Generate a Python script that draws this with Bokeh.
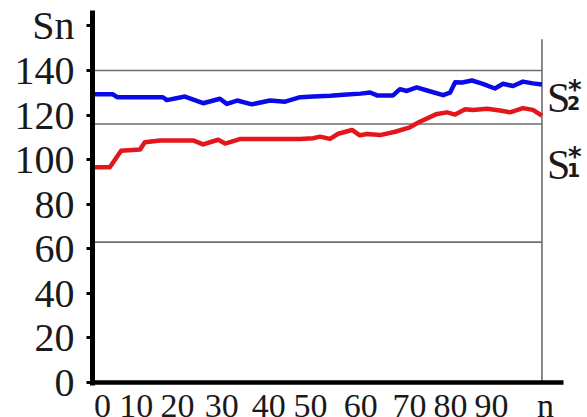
from bokeh.plotting import figure
from bokeh.models import Range1d, FixedTicker, Label, LabelSet, ColumnDataSource
from bokeh.embed import file_html
from bokeh.resources import INLINE

# ---- data ----
n_s2 = [0, 4.6, 5.6, 16.2, 17.1, 21.3, 25.5, 29.4, 31, 33.4, 36.8, 41, 44.5, 48, 51,
        55, 58.8, 62, 64.2, 65.8, 69.5, 71.1, 72.7, 75, 77.4, 81.1, 82.7, 83.9, 85.5,
        87.8, 90.3, 93.1, 95, 97.3, 99.6, 101.9, 104]
s2 = [129.3, 129.3, 128, 128, 126.7, 128.3, 125.3, 127.3, 125, 126.5, 124.8, 126.5, 126,
      128, 128.3, 128.6, 129.2, 129.6, 130.1, 128.8, 128.8, 131.6, 130.8, 132.4, 131,
      128.9, 130, 134.7, 134.6, 135.5, 134, 131.9, 134, 133, 135, 134.2, 133.7]

n_s1 = [0, 3.9, 6.5, 10.9, 12, 15.5, 23.2, 25.5, 29, 30.6, 34, 41, 48, 51, 52.6, 54.9,
        56.8, 60, 61.8, 63.5, 66.5, 70, 73.4, 75.7, 79.7, 82, 83.9, 86.2, 88, 91.3, 94.3,
        96.6, 99.6, 101.9, 104]
s1 = [96.6, 96.6, 104, 104.5, 107.8, 108.6, 108.6, 106.8, 108.9, 107.2, 109.2, 109.2,
      109.2, 109.6, 110.3, 109.3, 111.6, 113.3, 110.9, 111.5, 111, 112.5, 114.5, 117,
      120.5, 121.2, 120.2, 122.6, 122.3, 122.8, 122, 121.2, 123.1, 122.3, 119.7]

ref_levels = [140, 116, 63]
vline_top = 154

y_ticks = [0, 20, 40, 60, 80, 100, 120, 140, 160]
y_tick_labels = ["0", "20", "40", "60", "80", "100", "120", "140", "Sn"]
x_tick_positions = [2.2, 10, 19.6, 29.8, 40.7, 50.4, 62, 73.3, 82.8, 92.3, 104.8]
x_tick_labels = ["0", "10", "20", "30", "40", "50", "60", "70", "80", "90", "n"]

n_max = max(n_s1)
SERIF = "Liberation Serif"
INK = "#1a1a1a"

p = figure(width=587, height=417, output_backend="svg", toolbar_location=None,
           title=None, x_range=Range1d(-0.116, 114.55), y_range=Range1d(-15.7, 171.38),
           min_border_left=92, min_border_right=0, min_border_top=0,
           min_border_bottom=0)
p.outline_line_color = None
p.grid.visible = False
p.background_fill_color = "white"
p.border_fill_color = "white"

# reference lines
ref_src = ColumnDataSource(dict(x0=[0] * len(ref_levels), x1=[n_max] * len(ref_levels),
                                y0=ref_levels, y1=ref_levels))
p.segment(x0="x0", x1="x1", y0="y0", y1="y1", source=ref_src,
          line_color="#6e6e6e", line_width=1.6)
p.segment(x0=[n_max], x1=[n_max], y0=[0], y1=[vline_top],
          line_color="#6e6e6e", line_width=1.6)

# series
p.line(n_s2, s2, line_color="#0a0ae6", line_width=4.5, line_join="round")
p.line(n_s1, s1, line_color="#e3171b", line_width=4.5, line_join="round")

# y axis (side panel)
ya = p.yaxis[0]
ya.ticker = FixedTicker(ticks=y_ticks)
ya.major_label_overrides = dict(zip(y_ticks, y_tick_labels))
ya.axis_line_width = 5
ya.axis_line_color = "black"
ya.major_tick_out = 6
ya.major_tick_in = 0
ya.major_tick_line_width = 3
ya.minor_tick_out = 0
ya.minor_tick_in = 0
ya.major_label_text_font = SERIF
ya.major_label_text_font_size = "40px"
ya.major_label_text_color = INK
ya.major_label_standoff = 12
ya.bounds = (-1.4, 166.9)

# x axis drawn at y = 0 inside the frame (its labels are placed below)
xa = p.xaxis[0]
xa.fixed_location = 0
xa.ticker = FixedTicker(ticks=[])
xa.axis_line_width = 4.5
xa.axis_line_color = "black"
xa.major_tick_out = 0
xa.major_tick_in = 0
xa.minor_tick_out = 0
xa.minor_tick_in = 0
xa.bounds = (-1.1, 109)

# x tick labels below the x axis
xl_src = ColumnDataSource(dict(x=x_tick_positions, y=[0] * len(x_tick_positions),
                               text=x_tick_labels))
p.add_layout(LabelSet(x="x", y="y", text="text", source=xl_src, y_offset=-34,
                      text_align="center", text_baseline="alphabetic",
                      text_font=SERIF, text_font_size="34px", text_color=INK))

# right-hand labels S*_2 and S*_1
right_labels = [("2", 127.5), ("1", 97.4)]
for sub, base in right_labels:
    p.add_layout(Label(x=n_max, y=base, x_offset=5, text="S", text_font=SERIF,
                       text_font_size="42px", text_color=INK,
                       text_baseline="alphabetic"))
    p.add_layout(Label(x=n_max, y=base, x_offset=26, y_offset=8, text="*",
                       text_font="DejaVu Sans", text_font_style="bold",
                       text_font_size="26px", text_color=INK,
                       text_baseline="alphabetic"))
    p.add_layout(Label(x=n_max, y=base, x_offset=25, y_offset=-5, text=sub,
                       text_font="DejaVu Sans", text_font_style="bold",
                       text_font_size="19px", text_color=INK,
                       text_baseline="alphabetic"))

open("out.html", "w").write(file_html(p, INLINE))
